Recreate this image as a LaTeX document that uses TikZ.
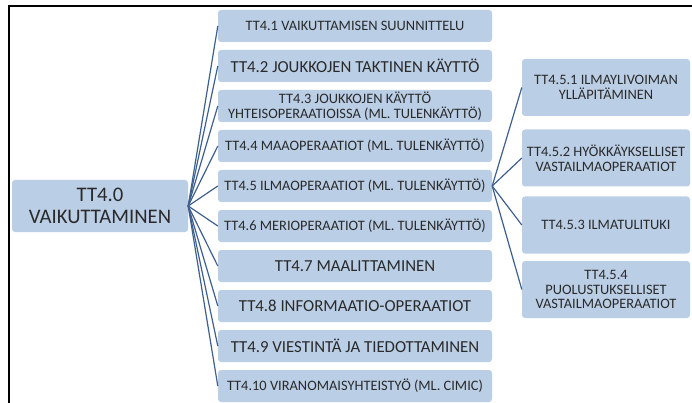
\documentclass[tikz,border=0pt]{standalone}
\usepackage{fontspec}
\setmainfont{Carlito}
\definecolor{boxfill}{HTML}{BACEE6}
\definecolor{boxtext}{HTML}{2A2A2A}
\definecolor{linkblue}{HTML}{3F5F8E}
\tikzset{
  box/.style={draw=none, fill=boxfill, rounded corners=3pt, inner sep=0pt,
    text=boxtext, align=center},
  midbox/.style={box, minimum width=274pt, minimum height=32pt},
  subbox/.style={box, minimum width=168pt, minimum height=57pt},
  small/.style={font=\fontsize{14.4}{14.8}\selectfont},
  large/.style={font=\fontsize{16.8}{17}\selectfont},
  link/.style={draw=linkblue, line width=1.2pt},
  frame/.style={draw=black, line width=2pt}
}
\begin{document}
\begin{tikzpicture}[x=1pt, y=-1pt]
  \useasboundingbox (0,0) rectangle (692,403);
  % outer frame (top and left edges only)
  \draw[frame] (692,6) -- (9,6) -- (9,403);

  % root
  \node[box, minimum width=176pt, minimum height=52pt,
        font=\fontsize{20.7}{22}\selectfont] (root) at (100,206)
        {TT4.0\\VAIKUTTAMINEN};

  % second level
  \node[midbox, small] (t1) at (355,26)  {TT4.1 VAIKUTTAMISEN SUUNNITTELU};
  \node[midbox, large] (t2) at (355,66)  {TT4.2 JOUKKOJEN TAKTINEN KÄYTTÖ};
  \node[midbox, small] (t3) at (355,106) {TT4.3 JOUKKOJEN KÄYTTÖ\\YHTEISOPERAATIOISSA (ML. TULENKÄYTTÖ)};
  \node[midbox, small] (t4) at (355,146) {TT4.4 MAAOPERAATIOT (ML. TULENKÄYTTÖ)};
  \node[midbox, small] (t5) at (355,186) {TT4.5 ILMAOPERAATIOT (ML. TULENKÄYTTÖ)};
  \node[midbox, small] (t6) at (355,226) {TT4.6 MERIOPERAATIOT (ML. TULENKÄYTTÖ)};
  \node[midbox, large] (t7) at (355,266) {TT4.7 MAALITTAMINEN};
  \node[midbox, large] (t8) at (355,306) {TT4.8 INFORMAATIO-OPERAATIOT};
  \node[midbox, large] (t9) at (355,346) {TT4.9 VIESTINTÄ JA TIEDOTTAMINEN};
  \node[midbox, small] (t10) at (355,386) {TT4.10 VIRANOMAISYHTEISTYÖ (ML. CIMIC)};

  % third level under TT4.5
  \node[subbox, small] (s1) at (606,87.5)  {TT4.5.1 ILMAYLIVOIMAN\\YLLÄPITÄMINEN};
  \node[subbox, small] (s2) at (606,158)   {TT4.5.2 HYÖKKÄYKSELLISET\\VASTAILMAOPERAATIOT};
  \node[subbox, small] (s3) at (606,225)   {TT4.5.3 ILMATULITUKI};
  \node[subbox, small] (s4) at (606,289.5) {TT4.5.4\\PUOLUSTUKSELLISET\\VASTAILMAOPERAATIOT};

  % connectors
  \foreach \c in {t1,t2,t3,t4,t5,t6,t7,t8,t9,t10}
    \draw[link] (root.east) -- (\c.west);
  \foreach \c in {s1,s2,s3,s4}
    \draw[link] (t5.east) -- (\c.west);
\end{tikzpicture}
\end{document}
